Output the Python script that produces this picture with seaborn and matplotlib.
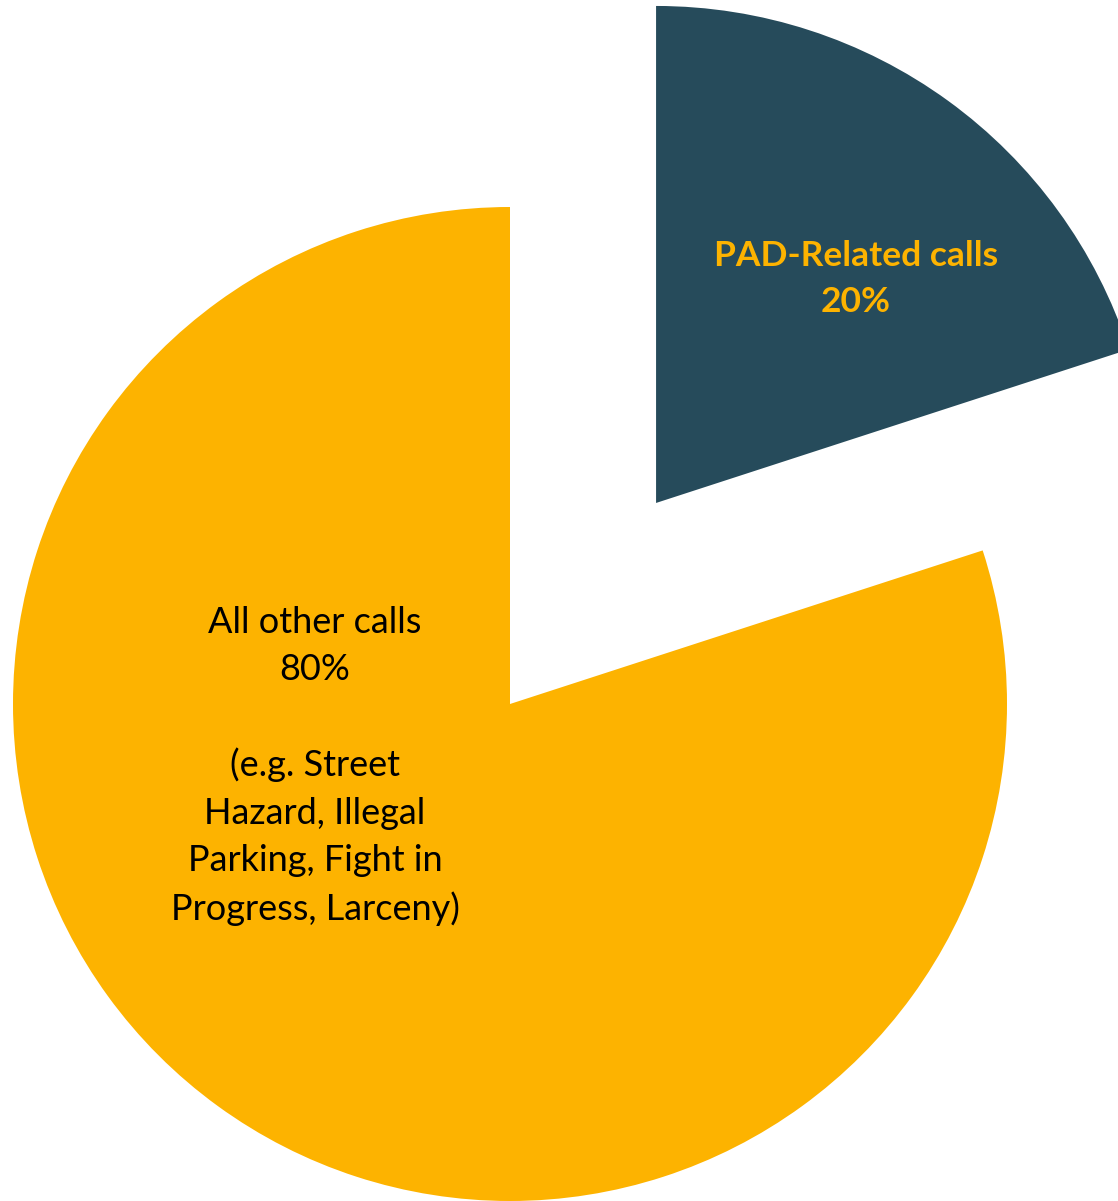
import matplotlib
matplotlib.use("Agg")
import matplotlib.pyplot as plt
import seaborn as sns

sns.set_theme(style="white")
plt.rcParams['font.family'] = ['Lato', 'DejaVu Sans']

# Datos del gráfico
categorias = ["PAD-Related calls", "All other calls"]
porcentajes = [20, 80]
colores = ["#264B5B", "#FDB300"]
explosion = [0.5, 0.0]  # fracción del radio

etiqueta_pad = "PAD-Related calls\n20%"
etiqueta_otras = "All other calls\n80%\n\n(e.g. Street\nHazard, Illegal\nParking, Fight in\nProgress, Larceny)"

ANCHO, ALTO = 1118, 1201
fig = plt.figure(figsize=(ANCHO / 100, ALTO / 100), dpi=100)
ax = fig.add_axes([0, 0, 1, 1])

# Coordenadas en píxeles (y hacia arriba)
centro = (510, ALTO - 704)
radio = 497

# matplotlib usa el explode en unidades de datos, no relativo al radio
ax.pie(porcentajes, colors=colores, explode=[e * radio for e in explosion],
       startangle=90, counterclock=False, center=centro, radius=radio,
       wedgeprops=dict(linewidth=0))

ax.text(856, ALTO - 279, etiqueta_pad, ha="center", va="center",
        fontsize=25.5, fontweight="bold", color="#FDB300", linespacing=1.5)
ax.text(315, ALTO - 766, etiqueta_otras, ha="center", va="center",
        fontsize=26, color="black", linespacing=1.52)

ax.set_xlim(0, ANCHO)
ax.set_ylim(0, ALTO)
ax.set_aspect("equal")
ax.axis("off")

fig.savefig("out.png", dpi=100, facecolor="white")
plt.close(fig)
